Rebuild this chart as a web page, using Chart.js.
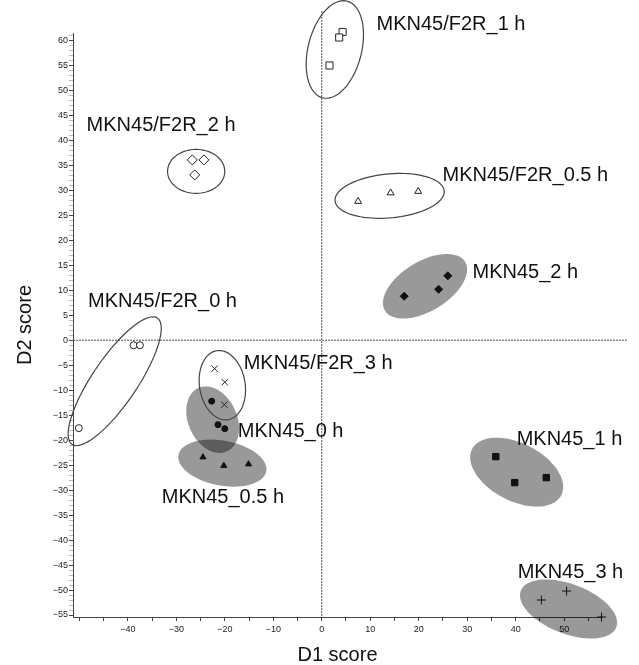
<!DOCTYPE html>
<html>
<head>
<meta charset="utf-8">
<script src="https://cdn.jsdelivr.net/npm/chart.js@4.4.0/dist/chart.umd.min.js"></script>
<style>
html, body { margin: 0; padding: 0; background: #fff; }
#wrap { width: 639px; height: 665px; }
</style>
</head>
<body>
<div id="wrap"><canvas id="ldaChart" width="639" height="665"></canvas></div>
<script>
// discriminant scores [D1, D2] per group
const f2r0h  = [[-38.8, -1.0], [-37.5, -1.0], [-50.1, -17.6]];
const f2r05h = [[7.5, 27.8], [14.2, 29.5], [19.9, 29.8]];
const f2r1h  = [[4.3, 61.7], [3.6, 60.6], [1.6, 55.0]];
const f2r2h  = [[-26.7, 36.1], [-24.3, 36.1], [-26.2, 33.1]];
const f2r3h  = [[-22.1, -5.7], [-20.0, -8.4], [-20.1, -12.9]];
const mkn0h  = [[-22.7, -12.2], [-21.4, -16.9], [-20.0, -17.7]];
const mkn05h = [[-24.5, -23.4], [-20.2, -25.1], [-15.1, -24.8]];
const mkn1h  = [[35.9, -23.3], [39.8, -28.5], [46.3, -27.5]];
const mkn2h  = [[17.0, 8.8], [24.1, 10.2], [26.0, 12.9]];
const mkn3h  = [[45.3, -52.0], [50.5, -50.2], [57.7, -55.4]];

// axis ticks
const xTickValues = [-50, -45, -40, -35, -30, -25, -20, -15, -10, -5, 0, 5, 10, 15, 20, 25, 30, 35, 40, 45, 50, 55];
const xTickLabels = [-40, -30, -20, -10, 0, 10, 20, 30, 40, 50];
const yTickLabels = [-55, -50, -45, -40, -35, -30, -25, -20, -15, -10, -5, 0, 5, 10, 15, 20, 25, 30, 35, 40, 45, 50, 55, 60];

// group ellipses (centre, semi axes in score units, angle in degrees)
const ellipses = [
    { cx: 2.7,   cy: 58.2,  a: 10.0, b: 5.5, angle: 75,  filled: false },
    { cx: -25.9, cy: 33.8,  a: 5.9,  b: 4.4, angle: 0,   filled: false },
    { cx: 14.0,  cy: 28.9,  a: 11.3, b: 4.4, angle: 5,   filled: false },
    { cx: -42.7, cy: -8.2,  a: 15.4, b: 4.6, angle: 55,  filled: false },
    { cx: -20.5, cy: -9.0,  a: 7.0,  b: 4.7, angle: 100, filled: false },
    { cx: 21.3,  cy: 10.8,  a: 9.6,  b: 5.0, angle: 30,  filled: true },
    { cx: -22.5, cy: -15.9, a: 7.0,  b: 5.0, angle: 116, filled: true },
    { cx: -20.5, cy: -24.6, a: 9.2,  b: 4.5, angle: -10, filled: true },
    { cx: 40.2,  cy: -26.4, a: 10.3, b: 5.8, angle: -26, filled: true },
    { cx: 50.9,  cy: -53.8, a: 10.5, b: 5.0, angle: -20, filled: true }
];

// group names and where they sit (left edge, middle)
const groupLabels = [
    { text: 'MKN45/F2R_1 h',   x: 11.3,  y: 63.3 },
    { text: 'MKN45/F2R_2 h',   x: -48.5, y: 43.0 },
    { text: 'MKN45/F2R_0.5 h', x: 24.9,  y: 32.9 },
    { text: 'MKN45_2 h',       x: 31.1,  y: 13.6 },
    { text: 'MKN45/F2R_0 h',   x: -48.2, y: 7.8 },
    { text: 'MKN45/F2R_3 h',   x: -16.1, y: -4.6 },
    { text: 'MKN45_0 h',       x: -17.3, y: -18.2 },
    { text: 'MKN45_0.5 h',     x: -33.0, y: -31.5 },
    { text: 'MKN45_1 h',       x: 40.2,  y: -19.9 },
    { text: 'MKN45_3 h',       x: 40.4,  y: -46.5 }
];

const FONT = '"Liberation Sans", Arial, Helvetica, sans-serif';
const toPts = arr => arr.map(p => ({ x: p[0], y: p[1] }));

function openSet(label, data, style, r) {
    return { label, data: toPts(data), pointStyle: style, pointRadius: r,
        backgroundColor: '#fff', borderColor: '#222', borderWidth: 1, clip: false };
}
function filledSet(label, data, style, r) {
    return { label, data: toPts(data), pointStyle: style, pointRadius: r,
        backgroundColor: '#111', borderColor: '#111', borderWidth: 1, clip: false };
}

// dotted zero lines, running a bit past the axes like the original
const zeroLines = {
    id: 'zeroLines',
    beforeDatasetsDraw(chart) {
        const { ctx, chartArea, scales: { x, y } } = chart;
        const x0 = x.getPixelForValue(0), y0 = y.getPixelForValue(0);
        ctx.save();
        ctx.strokeStyle = '#555';
        ctx.lineWidth = 1;
        ctx.setLineDash([2, 1]);
        ctx.beginPath();
        ctx.moveTo(x0, y.getPixelForValue(65.9));
        ctx.lineTo(x0, chartArea.bottom);
        ctx.moveTo(chartArea.left, y0);
        ctx.lineTo(x.getPixelForValue(63.1), y0);
        ctx.stroke();
        ctx.restore();
    }
};

const ellipsePlugin = {
    id: 'ellipses',
    beforeDatasetsDraw(chart) {
        const { ctx, scales: { x, y } } = chart;
        const path = e => {
            const rad = e.angle * Math.PI / 180;
            ctx.beginPath();
            for (let i = 0; i <= 90; i++) {
                const t = i / 90 * 2 * Math.PI;
                const dx = e.a * Math.cos(t), dy = e.b * Math.sin(t);
                const px = x.getPixelForValue(e.cx + dx * Math.cos(rad) - dy * Math.sin(rad));
                const py = y.getPixelForValue(e.cy + dx * Math.sin(rad) + dy * Math.cos(rad));
                if (i === 0) ctx.moveTo(px, py); else ctx.lineTo(px, py);
            }
            ctx.closePath();
        };
        ctx.save();
        ellipses.filter(e => e.filled).forEach(e => {
            path(e);
            ctx.fillStyle = 'rgba(0,0,0,0.4)';
            ctx.fill();
        });
        ellipses.filter(e => !e.filled).forEach(e => {
            path(e);
            ctx.strokeStyle = '#444';
            ctx.lineWidth = 1.2;
            ctx.stroke();
        });
        ctx.restore();
    }
};

const labelPlugin = {
    id: 'groupLabels',
    afterDatasetsDraw(chart) {
        const { ctx, scales: { x, y } } = chart;
        ctx.save();
        ctx.font = '20px ' + FONT;
        ctx.fillStyle = '#111';
        ctx.textAlign = 'left';
        ctx.textBaseline = 'middle';
        groupLabels.forEach(l => {
            ctx.fillText(l.text, x.getPixelForValue(l.x), y.getPixelForValue(l.y));
        });
        ctx.restore();
    }
};

const fmt = v => (v < 0 ? '\u2212' + Math.abs(v) : String(v));

new Chart(document.getElementById('ldaChart'), {
    type: 'scatter',
    data: {
        datasets: [
            openSet('MKN45/F2R_0 h', f2r0h, 'circle', 3.5),
            openSet('MKN45/F2R_0.5 h', f2r05h, 'triangle', 4),
            openSet('MKN45/F2R_1 h', f2r1h, 'rect', 5),
            openSet('MKN45/F2R_2 h', f2r2h, 'rectRot', 5),
            openSet('MKN45/F2R_3 h', f2r3h, 'crossRot', 4.5),
            filledSet('MKN45_0 h', mkn0h, 'circle', 3),
            filledSet('MKN45_0.5 h', mkn05h, 'triangle', 3.5),
            filledSet('MKN45_1 h', mkn1h, 'rect', 4.5),
            filledSet('MKN45_2 h', mkn2h, 'rectRot', 4),
            filledSet('MKN45_3 h', mkn3h, 'cross', 4.5)
        ]
    },
    options: {
        responsive: false,
        animation: false,
        layout: { padding: { top: 33, right: 37, left: 0, bottom: 0 } },
        scales: {
            x: {
                type: 'linear',
                min: -51.3,
                max: 57.8,
                afterBuildTicks: s => { s.ticks = xTickValues.map(v => ({ value: v })); },
                afterFit: s => { s.height = 48; },
                ticks: {
                    autoSkip: false,
                    maxRotation: 0,
                    padding: 3,
                    color: '#222',
                    font: { size: 9, family: FONT },
                    callback: v => (xTickLabels.includes(v) ? fmt(v) : '')
                },
                grid: { drawOnChartArea: false, tickLength: 4, color: '#444' },
                border: { color: '#444', width: 1 },
                title: {
                    display: true,
                    text: 'D1 score',
                    color: '#111',
                    font: { size: 20, family: FONT, lineHeight: 1 },
                    padding: { top: 0, bottom: 0 }
                }
            },
            y: {
                type: 'linear',
                min: -55.4,
                max: 61.5,
                afterBuildTicks: s => {
                    const t = [];
                    for (let v = -55; v <= 61; v++) t.push({ value: v });
                    s.ticks = t;
                },
                afterFit: s => { s.width = 73; },
                ticks: {
                    autoSkip: false,
                    padding: 1,
                    color: '#222',
                    font: { size: 9, family: FONT },
                    callback: v => (yTickLabels.includes(v) ? fmt(v) : '')
                },
                grid: {
                    drawOnChartArea: false,
                    tickLength: 4,
                    color: ctx => (ctx.tick && ctx.tick.value % 5 === 0 ? '#444' : '#bbb')
                },
                border: { color: '#444', width: 1 },
                title: {
                    display: true,
                    text: 'D2 score',
                    color: '#111',
                    font: { size: 20, family: FONT, lineHeight: 1 },
                    padding: { top: 15, bottom: 0 }
                }
            }
        },
        plugins: {
            legend: { display: false },
            tooltip: { enabled: false }
        }
    },
    plugins: [zeroLines, ellipsePlugin, labelPlugin]
});
</script>
</body>
</html>
